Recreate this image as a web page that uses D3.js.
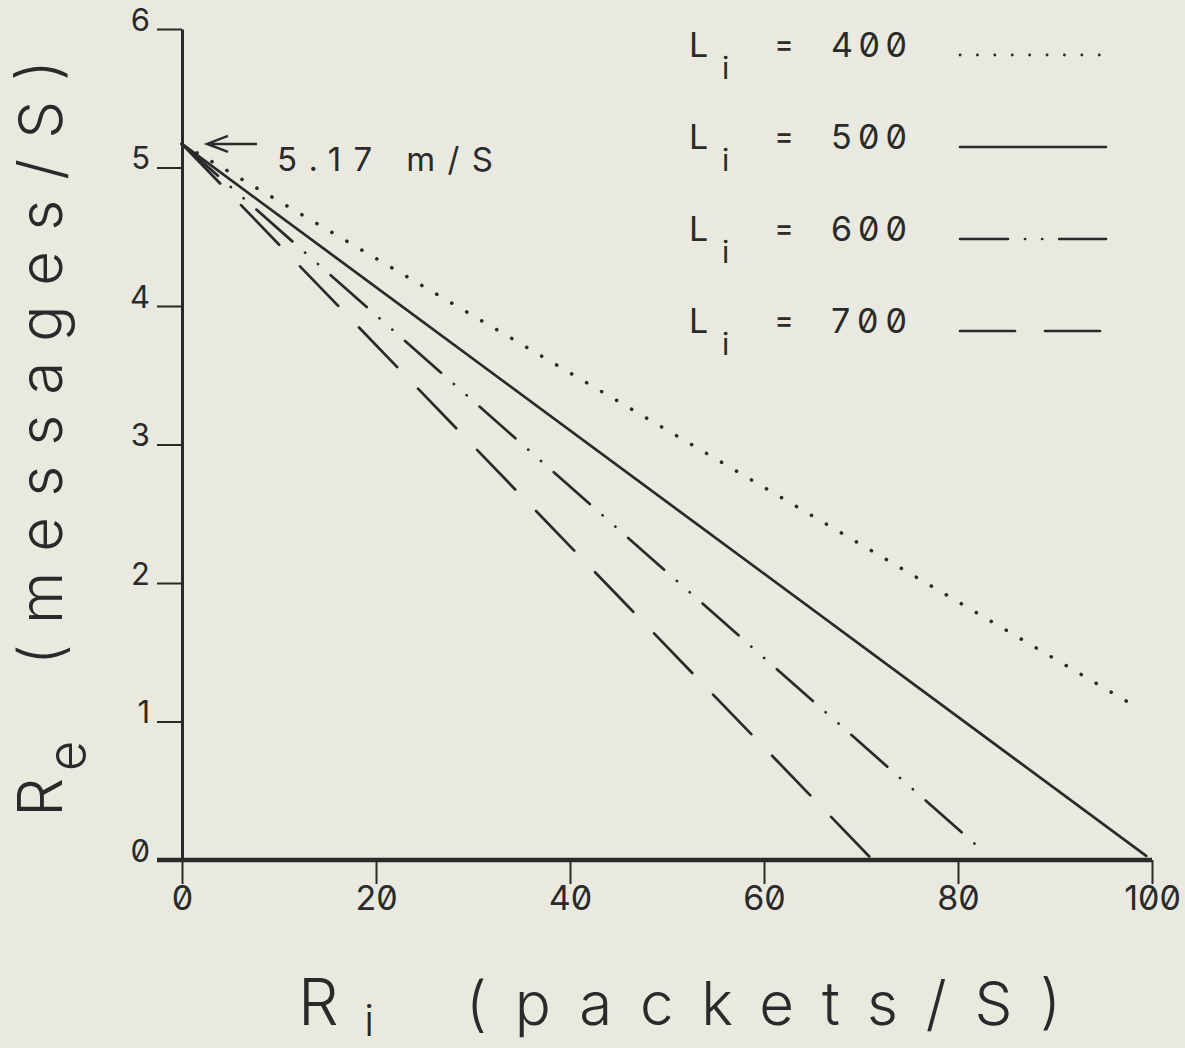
<!DOCTYPE html>
<html>
<head>
<meta charset="utf-8">
<script src="https://cdn.jsdelivr.net/npm/d3@7"></script>
<style>
  body { margin: 0; background: #e9e9e0; }
  svg { display: block; }
  text { font-family: "Inter", "DejaVu Sans", sans-serif; fill: #2a2a2a; font-feature-settings: "zero" 1; }
</style>
</head>
<body>
<div id="chart"></div>
<script>
// values (Ri in packets/S, Re in messages/S)
const msgLengths = ["400", "500", "600", "700"];
const ri400 = [0, 98.5];
const re400 = [5.17, 1.10];
const ri500 = [0, 99.4];
const re500 = [5.17, 0.03];
const ri600 = [0, 82.8];
const re600 = [5.17, 0.05];
const ri700 = [0, 71.2];
const re700 = [5.17, 0.0];
const xTicks = [0, 20, 40, 60, 80, 100];
const yTicks = [0, 1, 2, 3, 4, 5, 6];
const interceptLabel = "5.17 m/S";

const width = 1185, height = 1048;
const ink = "#2a2a2a";

const svg = d3.select("#chart").append("svg")
    .attr("width", width)
    .attr("height", height);

const x = d3.scaleLinear().domain([0, 100]).range([182, 1152]);
const y = d3.scaleLinear().domain([0, 6]).range([860, 29]);

// dash styles: dotted, solid, dash-dot-dot, long dash
const dashes = ["0.1 17.3", null, "48 17 0.1 17 0.1 17", "55 30"];
const series = [
    {label: msgLengths[0], ri: ri400, re: re400},
    {label: msgLengths[1], ri: ri500, re: re500},
    {label: msgLengths[2], ri: ri600, re: re600},
    {label: msgLengths[3], ri: ri700, re: re700}
];

// y axis
const yAxis = svg.append("g")
    .attr("transform", "translate(" + x(0) + ",0)")
    .call(d3.axisLeft(y).tickValues(yTicks).tickSize(25).tickSizeOuter(0).tickFormat(d3.format("d")));
yAxis.select(".domain").attr("stroke", ink).attr("stroke-width", 3);
yAxis.selectAll(".tick line").attr("stroke", ink).attr("stroke-width", 2);
yAxis.selectAll(".tick text")
    .attr("x", -32)
    .attr("dy", "0.04em")
    .style("font-size", "31px")
    .style("font-weight", 400);

// x axis
const xAxis = svg.append("g")
    .attr("transform", "translate(0," + y(0) + ")")
    .call(d3.axisBottom(x).tickValues(xTicks).tickSize(24).tickSizeOuter(0).tickFormat(d3.format("d")));
xAxis.select(".domain").remove();
xAxis.selectAll(".tick line").attr("stroke", ink).attr("stroke-width", 2);
xAxis.selectAll(".tick text")
    .attr("y", 26)
    .style("font-size", "34px")
    .style("font-weight", 400);
svg.append("line")
    .attr("x1", x(0) - 25).attr("x2", x(100))
    .attr("y1", y(0)).attr("y2", y(0))
    .attr("stroke", ink).attr("stroke-width", 4.5);

// lines
const line = d3.line().x(d => x(d[0])).y(d => y(d[1]));
series.forEach((s, i) => {
    svg.append("path")
        .datum(d3.zip(s.ri, s.re))
        .attr("d", line)
        .attr("fill", "none")
        .attr("stroke", ink)
        .attr("stroke-width", i === 0 ? 3.6 : 2.7)
        .attr("stroke-linecap", "round")
        .attr("stroke-dasharray", dashes[i]);
});

// intercept annotation
const tipX = x(0) + 25, tipY = y(5.17);
svg.append("path")
    .attr("d", "M" + (tipX + 50) + "," + tipY + "L" + tipX + "," + tipY +
               "M" + (tipX + 21) + "," + (tipY - 8) + "L" + tipX + "," + tipY + "L" + (tipX + 21) + "," + (tipY + 8))
    .attr("fill", "none")
    .attr("stroke", ink)
    .attr("stroke-width", 2.4);
svg.append("text")
    .attr("x", 277).attr("y", 171)
    .attr("textLength", 216).attr("lengthAdjust", "spacing")
    .style("font-size", "33px").style("font-weight", 400)
    .text(interceptLabel);

// legend
const legend = svg.selectAll(".legend")
    .data(series)
    .enter().append("g")
    .attr("class", "legend")
    .attr("transform", (d, i) => "translate(0," + (57 + i * 92) + ")");

legend.append("text")
    .attr("x", 689).attr("y", 0)
    .style("font-size", "34px").style("font-weight", 400)
    .text("L");
legend.append("text")
    .attr("x", 722).attr("y", 22)
    .style("font-size", "30px").style("font-weight", 400)
    .text("i");
legend.append("text")
    .attr("x", 784).attr("y", -3)
    .attr("text-anchor", "middle")
    .style("font-size", "28px").style("font-weight", 500)
    .text("=");
legend.append("text")
    .attr("x", 831).attr("y", 0)
    .attr("textLength", 76).attr("lengthAdjust", "spacing")
    .style("font-size", "34px").style("font-weight", 400)
    .text(d => d.label);
legend.append("line")
    .attr("x1", 960).attr("x2", 1106)
    .attr("y1", -2).attr("y2", -2)
    .attr("stroke", ink)
    .attr("stroke-width", (d, i) => i === 0 ? 2.8 : 2.7)
    .attr("stroke-linecap", "round")
    .attr("stroke-dasharray", (d, i) => dashes[i]);

// axis titles
const yTitle = svg.append("g").attr("transform", "translate(62,817) rotate(-90)");
yTitle.append("text").attr("x", 0).attr("y", 0)
    .style("font-size", "62px").style("font-weight", 300)
    .text("R");
yTitle.append("text").attr("x", 46).attr("y", 23)
    .style("font-size", "52px").style("font-weight", 300)
    .text("e");
yTitle.append("text").attr("x", 152).attr("y", 0)
    .attr("textLength", 605).attr("lengthAdjust", "spacing")
    .style("font-size", "60px").style("font-weight", 300)
    .text("(messages/S)");

svg.append("text").attr("x", 298).attr("y", 1025)
    .style("font-size", "64px").style("font-weight", 300)
    .text("R");
svg.append("text").attr("x", 364).attr("y", 1036)
    .style("font-size", "44px").style("font-weight", 300)
    .text("i");
svg.append("text").attr("x", 466).attr("y", 1025)
    .attr("textLength", 595).attr("lengthAdjust", "spacing")
    .style("font-size", "60px").style("font-weight", 300)
    .text("(packets/S)");
</script>
</body>
</html>
